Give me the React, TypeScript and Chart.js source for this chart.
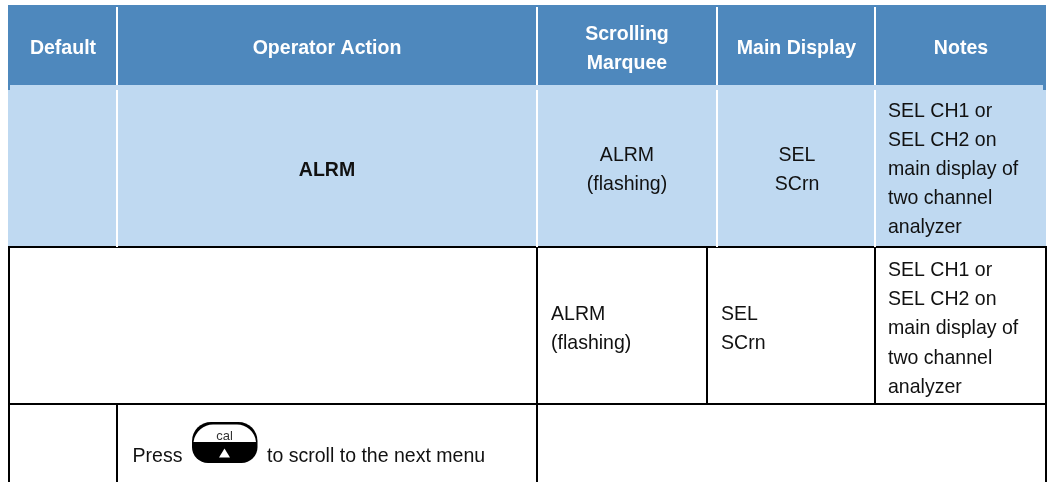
import React, { useEffect, useRef } from "react";
import { Chart, registerables } from "chart.js";

Chart.register(...registerables);

const WIDTH = 1048;
const HEIGHT = 482;

// Table content
const headerLabels = ["Default", "Operator Action", "Scrolling\nMarquee", "Main Display", "Notes"];
const firstRowLabels = ["", "ALRM", "ALRM\n(flashing)", "SEL\nSCrn", "SEL CH1 or\nSEL CH2 on\nmain display of\ntwo channel\nanalyzer"];
const secondRowLabels = ["ALRM\n(flashing)", "SEL\nSCrn", "SEL CH1 or\nSEL CH2 on\nmain display of\ntwo channel\nanalyzer"];
const pressLabel = "Press";
const scrollLabel = "to scroll to the next menu";
const keyLabel = "cal";

// Table grid, in scale units
const bandLeft = 8;
const bandRight = 1046;
const headerTop = 5;
const headerBottom = 85;
const bodyBottom = 247;
const secondRowBottom = 404;
const pageBottom = 482;
const headerColumns = [117, 537, 717, 875];
const secondRowColumns = [537, 707, 875];
const thirdRowColumns = [117, 537];

type Pt = { x: number; y: number };
const seg = (a: Pt, b: Pt, color: string, width: number) => ({
  data: [a, b],
  borderColor: color,
  borderWidth: width,
  pointRadius: 0,
  fill: false,
  tension: 0,
  borderCapStyle: "butt" as const,
});
const band = (x0: number, x1: number, y0: number, y1: number, color: string) => ({
  data: [{ x: x0, y: y0 }, { x: x1, y: y0 }],
  borderColor: color,
  borderWidth: 0,
  backgroundColor: color,
  pointRadius: 0,
  fill: { value: y1 },
  tension: 0,
});

const BLACK = "#000000";
const WHITE = "#ffffff";
const HEAD = "#4e88bd";
const LIGHT = "#bfd9f1";
const INK = "#111111";

const lineDatasets = [
  ...headerColumns.map((x) => seg({ x, y: headerTop + 2 }, { x, y: headerBottom }, WHITE, 2)),
  ...headerColumns.map((x) => seg({ x, y: headerBottom + 5 }, { x, y: bodyBottom }, WHITE, 2)),
  seg({ x: bandLeft, y: bodyBottom }, { x: bandRight + 1, y: bodyBottom }, BLACK, 2),
  seg({ x: bandLeft, y: secondRowBottom }, { x: bandRight + 1, y: secondRowBottom }, BLACK, 2),
  seg({ x: bandLeft + 1, y: bodyBottom }, { x: bandLeft + 1, y: pageBottom }, BLACK, 2),
  seg({ x: bandRight, y: bodyBottom }, { x: bandRight, y: pageBottom }, BLACK, 2),
  ...secondRowColumns.map((x) => seg({ x, y: bodyBottom }, { x, y: secondRowBottom }, BLACK, 2)),
  ...thirdRowColumns.map((x) => seg({ x, y: secondRowBottom }, { x, y: pageBottom }, BLACK, 2)),
];

const fillDatasets = [
  band(bandLeft, bandLeft + 2, headerBottom, headerBottom + 5, HEAD),
  band(bandRight - 3, bandRight, headerBottom, headerBottom + 5, HEAD),
  band(bandLeft, bandRight, headerTop, headerBottom, HEAD),
  band(bandLeft, bandRight, headerBottom, bodyBottom, LIGHT),
];

const FONT = '"Liberation Sans", Arial, sans-serif';
const SIZE = 21;
const SQUEEZE = 0.93;
const LEADING = 29.2;

const tablePlugin = {
  id: "tableText",
  afterDatasetsDraw(chart: any) {
    const { ctx, scales } = chart;
    const X = (v: number) => scales.x.getPixelForValue(v);
    const Y = (v: number) => scales.y.getPixelForValue(v);
    const text = (s: string, x: number, y: number, align: CanvasTextAlign, bold: boolean, color: string) => {
      ctx.font = `${bold ? "bold " : ""}${SIZE}px ${FONT}`;
      ctx.textAlign = align;
      ctx.textBaseline = "alphabetic";
      ctx.fillStyle = color;
      s.split("\n").forEach((line, i) => {
        ctx.save();
        ctx.translate(X(x), Y(y + i * LEADING));
        ctx.scale(SQUEEZE, 1);
        ctx.fillText(line, 0, 0);
        ctx.restore();
      });
    };
    ctx.save();
    // Header row
    text(headerLabels[0], 63, 53.5, "center", true, WHITE);
    text(headerLabels[1], 327, 53.5, "center", true, WHITE);
    text(headerLabels[2], 627, 40, "center", true, WHITE);
    text(headerLabels[3], 796.5, 53.5, "center", true, WHITE);
    text(headerLabels[4], 961, 53.5, "center", true, WHITE);
    // Highlighted row
    text(firstRowLabels[1], 327, 175.5, "center", true, INK);
    text(firstRowLabels[2], 627, 161, "center", false, INK);
    text(firstRowLabels[3], 797, 161, "center", false, INK);
    text(firstRowLabels[4], 888, 116.5, "left", false, INK);
    // Second row
    text(secondRowLabels[0], 551, 320, "left", false, INK);
    text(secondRowLabels[1], 721, 320, "left", false, INK);
    text(secondRowLabels[2], 888, 276, "left", false, INK);
    // Third row
    text(pressLabel, 132.5, 461.5, "left", false, INK);
    text(scrollLabel, 267, 461.5, "left", false, INK);

    // Key icon
    const kx0 = X(192), kx1 = X(257.5), ky0 = Y(422), ky1 = Y(463);
    ctx.fillStyle = BLACK;
    ctx.beginPath();
    ctx.roundRect(kx0, ky0, kx1 - kx0, ky1 - ky0, [19, 19, 16, 16]);
    ctx.fill();
    ctx.fillStyle = WHITE;
    ctx.beginPath();
    ctx.moveTo(X(193.5), Y(442));
    ctx.bezierCurveTo(X(195), Y(431), X(204), Y(424.5), X(213), Y(424.5));
    ctx.lineTo(X(237), Y(424.5));
    ctx.bezierCurveTo(X(246), Y(424.5), X(255), Y(431), X(256), Y(442));
    ctx.closePath();
    ctx.fill();
    ctx.beginPath();
    ctx.moveTo(X(224.5), Y(448.5));
    ctx.lineTo(X(230), Y(457.5));
    ctx.lineTo(X(219), Y(457.5));
    ctx.closePath();
    ctx.fill();
    ctx.font = `13px ${FONT}`;
    ctx.textAlign = "center";
    ctx.fillStyle = "#333333";
    ctx.fillText(keyLabel, X(224.5), Y(440));
    ctx.restore();
  },
};

export default function App() {
  const ref = useRef<HTMLCanvasElement | null>(null);
  useEffect(() => {
    if (!ref.current) return;
    const chart = new Chart(ref.current, {
      type: "line",
      data: { datasets: [...lineDatasets, ...fillDatasets] as any },
      options: {
        animation: false,
        responsive: false,
        devicePixelRatio: 1,
        layout: { padding: 0 },
        plugins: { legend: { display: false }, tooltip: { enabled: false }, title: { display: false } },
        scales: {
          x: { type: "linear", min: 0, max: WIDTH, display: false },
          y: { type: "linear", min: 0, max: HEIGHT, reverse: true, display: false },
        },
      },
      plugins: [tablePlugin],
    });
    return () => chart.destroy();
  }, []);
  return (
    <canvas
      ref={ref}
      width={WIDTH}
      height={HEIGHT}
      style={{ position: "fixed", left: 0, top: 0, width: WIDTH, height: HEIGHT, background: "#ffffff" }}
    />
  );
}
